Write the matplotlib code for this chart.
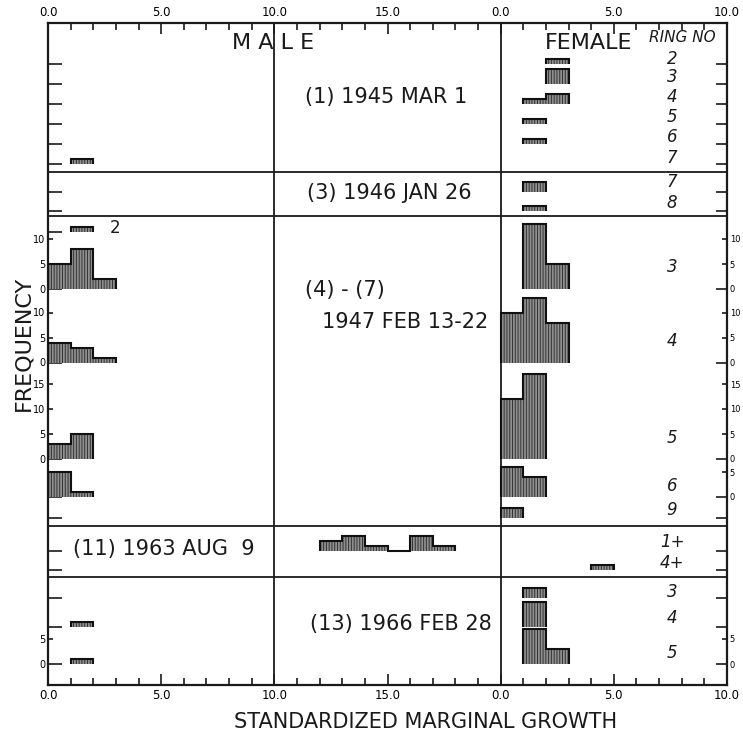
import numpy as np
import matplotlib.pyplot as plt

plt.rcParams['font.family'] = ['DejaVu Sans']
plt.rcParams['hatch.linewidth'] = 0.7

# counts per class of width 1.0 (standardized marginal growth), class 0-1 first
# male
m45_r7 = [0, 1]
m47_r2 = [0, 1]
m47_r3 = [5, 8, 2]
m47_r4 = [4, 3, 1]
m47_r5 = [3, 5]
m47_r6 = [5, 1]
m63_r1 = [0] * 12 + [2, 3, 1, 0, 3, 1]
m66_r4 = [0, 1]
m66_r5 = [0, 1]
# female
f45_r2 = [0, 0, 1]
f45_r3 = [0, 0, 3]
f45_r4 = [0, 1, 2]
f45_r5 = [0, 1]
f45_r6 = [0, 1]
f46_r7 = [0, 2]
f46_r8 = [0, 1]
f47_r3 = [0, 13, 5]
f47_r4 = [10, 13, 8]
f47_r5 = [12, 17]
f47_r6 = [6, 4]
f47_r9 = [2]
f63_r4 = [0, 0, 0, 0, 1]
f66_r3 = [0, 2]
f66_r4 = [0, 5]
f66_r5 = [0, 7, 3]

titles = ['(1) 1945 MAR 1', '(3) 1946 JAN 26', '(4) - (7)', '1947 FEB 13-22',
          '(11) 1963 AUG  9', '(13) 1966 FEB 28']
ring_labels = ['2', '3', '4', '5', '6', '7', '7', '8', '3', '4', '5', '6', '9',
               '1+', '4+', '3', '4', '5']
xtick_labels = ['0.0', '5.0', '10.0', '15.0', '0.0', '5.0', '10.0']

# layout, in pixels from the top of the image
W, H = 743, 732
TOP, BOT = 23, 685
PX_PER_COUNT = 5.0


def Y(p):
    return (BOT - p) / PX_PER_COUNT


base_px = [64, 84, 104, 124, 144, 164, 192, 211, 289, 362.5, 459, 497, 518,
           551, 570, 598, 627, 664]
label_px = [59, 77, 97, 117, 137, 158, 182, 203, 267, 341, 438, 486, 510,
            542, 563, 592, 618, 653]
b = [Y(p) for p in base_px]
b_m2 = Y(232)
dividers = [Y(172), Y(216), Y(526), Y(577)]
FEM = 20  # female axis starts at 20 on the shared x axis

fig = plt.figure(figsize=(W / 100, H / 100), dpi=100)
ax = fig.add_axes([48 / W, (H - BOT) / H, (727 - 48) / W, (BOT - TOP) / H])
ax.set_xlim(0, 30)
ax.set_ylim(0, Y(TOP))

HATCH_C = '#333333'
FACE = '#8f8f8f'


def hist(counts, base, offset=0):
    counts = np.asarray(counts, float)
    nz = np.nonzero(counts)[0]
    i0, i1 = nz[0], nz[-1] + 1
    vals = base + counts[i0:i1]
    edges = np.arange(i0, i1 + 1) + offset
    ax.stairs(vals, edges, baseline=base, fill=True, facecolor=FACE,
              edgecolor=HATCH_C, hatch='||||||', linewidth=0, zorder=2)
    ax.stairs(vals, edges, baseline=base, fill=True, facecolor='none',
              edgecolor='#111111', linewidth=1.5, zorder=3)


# male
hist(m45_r7, b[5])
hist(m47_r2, b_m2)
hist(m47_r3, b[8])
hist(m47_r4, b[9])
hist(m47_r5, b[10])
hist(m47_r6, b[11])
hist(m63_r1, b[13])
hist(m66_r4, b[16])
hist(m66_r5, b[17])
# female
hist(f45_r2, b[0], FEM)
hist(f45_r3, b[1], FEM)
hist(f45_r4, b[2], FEM)
hist(f45_r5, b[3], FEM)
hist(f45_r6, b[4], FEM)
hist(f46_r7, b[6], FEM)
hist(f46_r8, b[7], FEM)
hist(f47_r3, b[8], FEM)
hist(f47_r4, b[9], FEM)
hist(f47_r5, b[10], FEM)
hist(f47_r6, b[11], FEM)
hist(f47_r9, b[12], FEM)
hist(f63_r4, b[14], FEM)
hist(f66_r3, b[15], FEM)
hist(f66_r4, b[16], FEM)
hist(f66_r5, b[17], FEM)

LC = '#1a1a1a'
for d in dividers:
    ax.axhline(d, color=LC, lw=1.3, zorder=1)
ax.axvline(10, color=LC, lw=1.3, zorder=1)
ax.axvline(FEM, color=LC, lw=1.3, zorder=1)
for s in ax.spines.values():
    s.set_linewidth(1.6)
    s.set_color(LC)

# x axis, top and bottom
ax.set_xticks(range(0, 31, 5), xtick_labels)
ax.set_xticks(range(31), minor=True)
ax.tick_params(axis='x', which='both', direction='in', top=True, bottom=True,
               labeltop=True, labelbottom=True, labelsize=8.5, pad=3,
               color=LC, width=1.2)
ax.tick_params(axis='x', which='major', length=8)
ax.tick_params(axis='x', which='minor', length=5)

# frequency scales
left_zero = [8, 9, 10, 17]
right_zero = [8, 9, 10, 11, 17]
left_scale = {8: [5, 10], 9: [5, 10], 10: [5, 10, 15], 17: [5]}
right_scale = {8: [5, 10], 9: [5, 10], 10: [5, 10, 15], 11: [5], 17: [5]}

lmaj = b + [b_m2]
ax.set_yticks(lmaj, ['0' if i in left_zero else '' for i in range(len(b))] + [''])
lmin, lminl = [], []
for i, vs in left_scale.items():
    for v in vs:
        lmin.append(b[i] + v)
        lminl.append(str(v))
ax.set_yticks(lmin, lminl, minor=True)
ax.tick_params(axis='y', which='both', direction='in', left=True, right=False,
               labelsize=7, pad=2, color=LC, width=1.2)
ax.tick_params(axis='y', which='major', length=10)
ax.tick_params(axis='y', which='minor', length=3.5)

ax2 = ax.twinx()
ax2.set_ylim(ax.get_ylim())
for s in ax2.spines.values():
    s.set_visible(False)
ax2.set_yticks(b, ['0' if i in right_zero else '' for i in range(len(b))])
rmin, rminl = [], []
for i, vs in right_scale.items():
    for v in vs:
        rmin.append(b[i] + v)
        rminl.append(str(v))
ax2.set_yticks(rmin, rminl, minor=True)
ax2.tick_params(axis='y', which='both', direction='in', right=True,
                labelsize=6, pad=2, color=LC, width=1.2)
ax2.tick_params(axis='y', which='major', length=8)
ax2.tick_params(axis='y', which='minor', length=3.5)


def ftext(x, y, s, **kw):
    kw.setdefault('va', 'center')
    kw.setdefault('color', LC)
    fig.text(x / W, 1 - y / H, s, **kw)


# headers
ftext(273, 43, 'M A L E', ha='center', fontsize=16)
ftext(545, 43, 'FEMALE', ha='left', fontsize=16)
ftext(682, 38, 'RING NO', ha='center', fontsize=11, style='italic')

# section titles
ftext(305, 97, titles[0], fontsize=15)
ftext(307, 193, titles[1], fontsize=15)
ftext(305, 290, titles[2], fontsize=15)
ftext(322, 322, titles[3], fontsize=15)
ftext(73, 549, titles[4], fontsize=15)
ftext(310, 624, titles[5], fontsize=15)

# ring numbers
for lab, ly in zip(ring_labels, label_px):
    ftext(672, ly, lab, ha='center', fontsize=12, style='italic')
ftext(115, 228, '2', ha='center', fontsize=12)

ftext(23, 343, 'FREQUENCY', ha='center', rotation=90, fontsize=16)
ftext(426, 722, 'STANDARDIZED MARGINAL GROWTH', ha='center', fontsize=15)

fig.savefig('out.png', dpi=100)
